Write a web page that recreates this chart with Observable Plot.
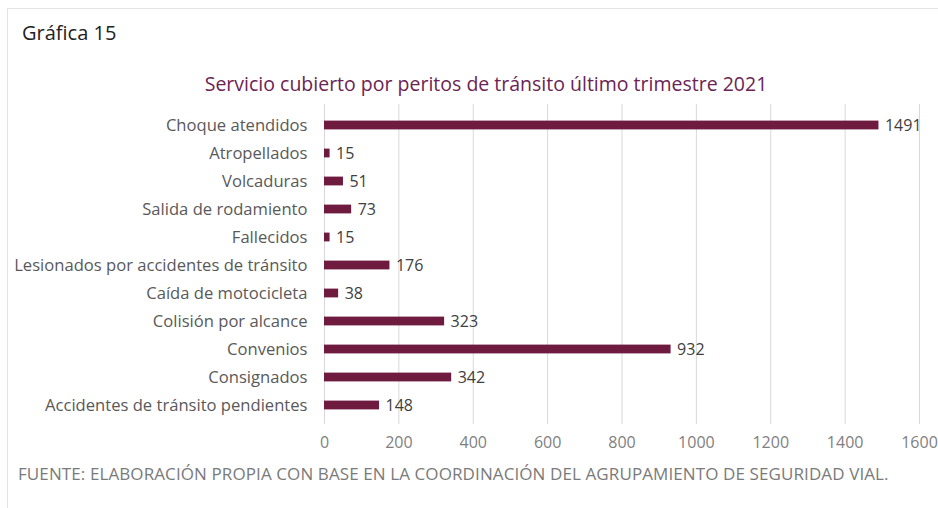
<!DOCTYPE html>
<html><head><meta charset="utf-8">
<script src="https://cdn.jsdelivr.net/npm/d3@7"></script>
<script src="https://cdn.jsdelivr.net/npm/@observablehq/plot@0.6"></script>
<style>
body{margin:0;background:#fff;font-family:"Open Sans",sans-serif;}
#wrap{position:relative;width:938px;height:508px;overflow:hidden;}
#frame{position:absolute;left:7px;top:8px;width:940px;height:520px;border-top:1px solid #e3e3e3;border-left:1px solid #e3e3e3;}
#num{position:absolute;left:22px;top:19px;font-size:20px;color:#222;}
#title{position:absolute;left:0;width:972px;top:70px;text-align:center;font-size:19.5px;color:#6b2454;}
#chart{position:absolute;left:0;top:96px;}
#foot{position:absolute;left:18px;top:462px;font-size:17px;letter-spacing:0.1px;color:#7a7a7a;}
</style></head><body>
<div id="wrap">
<div id="frame"></div>
<div id="num">Gráfica 15</div>
<div id="title">Servicio cubierto por peritos de tránsito último trimestre 2021</div>
<div id="chart"></div>
<div id="foot">FUENTE: ELABORACIÓN PROPIA CON BASE EN LA COORDINACIÓN DEL AGRUPAMIENTO DE SEGURIDAD VIAL.</div>
</div>
<script>
const categories = ["Choque atendidos","Atropellados","Volcaduras","Salida de rodamiento","Fallecidos","Lesionados por accidentes de tránsito","Caída de motocicleta","Colisión por alcance","Convenios","Consignados","Accidentes de tránsito pendientes"];
const values = [1491,15,51,73,15,176,38,323,932,342,148];
const xTicks = [0,200,400,600,800,1000,1200,1400,1600];
const data = categories.map((c,i)=>({c, v: values[i]}));
const chart = Plot.plot({
  width: 938, height: 359,
  marginLeft: 324, marginRight: 19, marginTop: 11, marginBottom: 33,
  style: {fontFamily: "'Open Sans', sans-serif", fontSize: "16px", background: "transparent", overflow: "visible"},
  x: {domain: [0,1600], ticks: xTicks, label: null},
  y: {domain: categories, padding: 0, label: null},
  marks: [
    Plot.ruleX(xTicks, {stroke: "#d9d9d9", strokeWidth: 1, insetTop: -3, insetBottom: -2}),
    Plot.axisX({ticks: xTicks, tickSize: 0, tickPadding: 14, tickFormat: "d", color: "#7f7f7f", fontSize: 16}),
    Plot.axisY({tickSize: 0, tickPadding: 17, color: "#595959", fontSize: 16.6}),
    Plot.barX(data, {x: "v", y: "c", fill: "#6e1b3f", insetTop: 9.6, insetBottom: 9.6}),
    Plot.text(data, {x: "v", y: "c", text: d => String(d.v), textAnchor: "start", dx: 6, fill: "#404040", fontSize: 16})
  ]
});
document.getElementById("chart").appendChild(chart);
</script>
</body></html>
